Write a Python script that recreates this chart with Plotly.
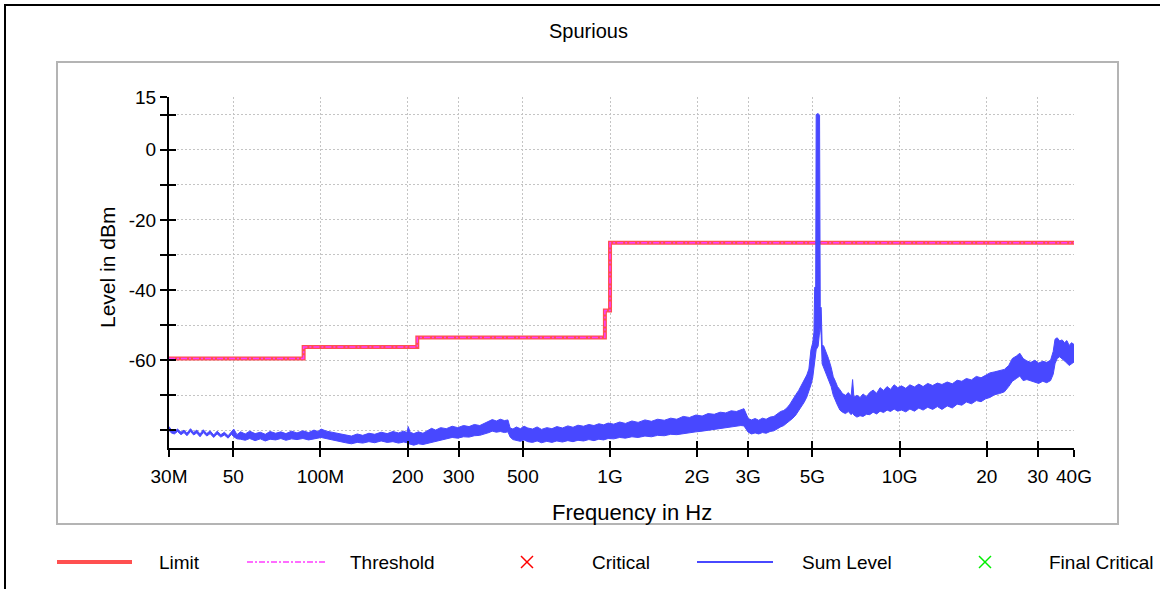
import math
import plotly.graph_objects as go

# ---------------- data ----------------
# Limit / threshold step lines (start frequency of each segment, MHz)
limit_start_mhz = [30, 87.5, 216, 960, 1000]
limit_dbm = [-59.5, -56.2, -53.5, -45.8, -26.5]
threshold_dbm = [-59.5, -56.2, -53.5, -45.8, -26.5]
stop_mhz = 40000

# Sum level trace: band read as upper / lower envelope (MHz, dBm)
sum_freq_mhz = [
    30.0, 30.6, 31.3, 32.1, 33.0, 33.8, 34.6, 35.6, 36.5, 37.4, 38.4, 39.4, 40.5, 41.6, 42.8, 44.0,
    45.3, 46.6, 48.0, 49.3, 50.2, 51.5,
    53, 55, 57, 59.5, 62, 64.5, 67, 70, 73, 76, 79.5, 83, 87, 91, 95, 98, 100.5,
    105, 110, 116, 122, 128, 134, 140, 147, 154, 162, 170, 178, 186, 194, 199, 201, 204, 210, 218, 226, 234,
    242, 250, 260, 272, 285, 298, 312, 326, 340, 355, 370, 382,
    392, 405, 418, 432, 444, 452, 462,
    475, 490, 505, 520, 540, 560, 580, 605, 630, 655, 685, 715, 745, 775, 810, 845, 880, 915, 950, 985,
    1030, 1080, 1130, 1190, 1250, 1320, 1390, 1460, 1540, 1620, 1700, 1790, 1880, 1980, 2080, 2180,
    2290, 2400, 2510, 2620, 2730, 2830, 2900, 2950, 3000,
    3080, 3170, 3260, 3360, 3460, 3570, 3680, 3780, 3880, 3980, 4080, 4180, 4280, 4380, 4480, 4580,
    4680, 4780, 4860, 4940, 5010, 5060, 5090, 5130, 5150, 5230, 5290, 5320, 5360, 5400, 5470, 5560,
    5680, 5800, 5900, 6000, 6100, 6220,
    6350, 6500, 6650, 6800, 6880, 6950, 7120, 7300, 7480, 7680, 7880, 8100, 8330, 8560, 8800, 9050,
    9300, 9570, 9850,
    10150, 10500, 10850, 11250, 11650, 12050, 12500, 13000, 13500, 14000, 14600, 15200, 15800, 16400,
    17000, 17700, 18400, 19100, 19800, 20500, 21300, 22100, 23000, 23800, 24500, 25300, 26000, 26700,
    27500, 28400, 29300, 30200, 31200, 32200, 33200, 33900, 34400, 35000, 35700, 36400, 37100, 37800,
    38500, 39200, 40000,
]
sum_upper_dbm = [
    -78.9, -79.9, -80.3, -79.6, -80.5, -79.9, -80.8, -79.5, -80.6, -79.9, -81.0, -79.8, -80.9, -80.1, -81.3, -80.2,
    -81.2, -80.5, -81.5, -80.3, -79.6, -81.2,
    -80.4, -81.0, -80.2, -80.9, -80.5, -81.1, -80.3, -80.8, -80.4, -80.9, -80.2, -80.7, -80.1, -80.6, -79.9, -80.3, -79.6,
    -80.2, -80.5, -80.9, -81.2, -81.6, -81.0, -81.4, -80.8, -81.1, -80.5, -80.9, -80.3, -80.7, -80.2, -80.6, -78.9, -80.5, -80.9, -80.4, -80.8, -80.1,
    -79.4, -79.9, -79.2, -79.5, -78.8, -79.2, -78.6, -78.9, -78.3, -78.6, -77.9, -77.5,
    -76.9, -77.3, -76.8, -77.2, -77.0, -79.3, -79.6,
    -79.0, -79.5, -78.8, -79.3, -79.6, -79.0, -79.7, -79.2, -79.5, -78.9, -79.3, -78.7, -79.1, -78.5, -78.8, -78.3, -78.6, -78.1, -78.4, -77.9,
    -78.2, -77.6, -78.0, -77.3, -77.7, -77.0, -77.4, -76.8, -77.1, -76.5, -76.8, -76.0, -76.3, -75.6, -75.9, -75.2,
    -75.4, -74.8, -75.0, -74.4, -74.6, -74.0, -73.8, -75.2, -76.6,
    -77.0, -76.6, -77.1, -76.5, -76.8, -76.2, -76.0, -75.2, -74.6, -74.3, -73.6, -72.5, -71.0, -69.8, -68.6, -67.2,
    -65.8, -64.2, -62.5, -57.0, -55.0, -52.0, -39.2, -39.0, 10.0, 10.3, 9.8, -44.7, -45.0, -55.5, -56.0, -57.5,
    -59.5, -62.0, -64.7, -66.0, -67.5, -68.4,
    -69.5, -70.0, -69.2, -70.2, -65.5, -70.5, -70.0, -70.6, -69.6, -70.4, -69.2, -68.5, -69.4, -67.8, -68.6, -67.5,
    -68.3, -67.0, -67.8,
    -67.3, -68.0, -67.0, -67.6, -66.8, -67.5, -66.6, -67.2, -66.5, -66.9, -66.2, -66.7, -65.7, -66.0,
    -65.2, -65.6, -64.6, -65.0, -64.3, -63.6, -63.3, -62.9, -62.6, -61.5, -59.5, -58.8, -58.0, -59.5,
    -60.2, -60.6, -60.0, -60.8, -60.3, -60.6, -60.0, -57.5, -54.0, -53.6, -54.5, -54.2, -55.0, -54.4,
    -55.8, -55.0, -55.5,
]
sum_lower_dbm = [
    -80.0, -80.7, -81.0, -80.3, -81.2, -80.6, -81.5, -80.3, -81.3, -80.7, -81.8, -80.6, -81.6, -80.9, -82.0, -81.0,
    -81.9, -81.3, -82.2, -81.1, -81.8, -82.4,
    -82.5, -82.8, -82.3, -82.9, -82.4, -83.0, -82.5, -82.7, -82.3, -82.8, -82.4, -82.6, -82.3, -82.7, -82.4, -82.2, -82.0,
    -82.3, -82.7, -83.1, -83.5, -83.8, -83.4, -83.6, -83.2, -83.5, -83.0, -83.4, -83.2, -83.6, -83.3, -83.5, -83.6, -83.9, -84.2, -83.8, -84.0, -83.5,
    -83.2, -83.0, -82.6, -82.4, -82.0, -82.2, -81.8, -81.9, -81.5, -81.4, -81.0, -80.6,
    -80.2, -80.5, -80.3, -80.6, -80.4, -81.9, -82.6,
    -82.9, -83.1, -82.7, -83.2, -83.4, -83.0, -83.5, -83.1, -83.4, -83.0, -83.3, -82.9, -83.2, -82.8, -83.0, -82.6, -82.9, -82.5, -82.7, -82.3,
    -82.4, -82.0, -82.2, -81.8, -82.0, -81.6, -81.8, -81.4, -81.5, -81.1, -81.2, -80.8, -80.6, -80.4, -80.2, -79.9,
    -79.7, -79.4, -79.3, -79.0, -78.8, -78.6, -78.7, -79.6, -80.5,
    -81.0, -80.7, -81.0, -80.6, -80.8, -80.3, -80.1, -79.5, -79.0, -78.6, -78.0, -77.2, -76.5, -75.6, -74.5, -73.3,
    -72.0, -70.5, -69.0, -67.0, -65.0, -62.0, -60.0, -58.0, -57.0, -56.0, -52.0, -50.0, -53.0, -61.0, -62.5, -64.0,
    -65.5, -67.5, -70.0, -71.5, -72.8, -74.2,
    -74.8, -75.2, -74.6, -75.5, -75.0, -75.6, -76.2, -75.8, -76.0, -75.4, -75.5, -74.8, -75.3, -74.5, -74.9, -74.2,
    -74.6, -73.9, -74.5,
    -74.2, -74.7, -73.9, -74.5, -73.6, -74.2, -73.4, -74.0, -73.2, -74.0, -73.0, -73.6, -72.5, -72.8,
    -71.9, -72.4, -71.5, -71.8, -71.0, -70.6, -69.8, -69.5, -69.0, -67.5, -66.0, -65.2, -64.5, -65.8,
    -65.5, -66.0, -66.3, -66.6, -66.0, -66.4, -65.8, -64.0, -61.0, -59.5, -59.0, -59.8, -60.2, -60.8,
    -61.5, -61.0, -60.5,
]

x_tick_mhz = [30, 50, 100, 200, 300, 500, 1000, 2000, 3000, 5000, 10000, 20000, 30000, 40000]
x_tick_text = ["30M", "50", "100M", "200", "300", "500", "1G", "2G", "3G", "5G", "10G", "20", "30", "40G"]
y_tick_vals = [15, 10, 0, -10, -20, -30, -40, -50, -60, -70, -80]
y_tick_text = ["15", "", "0", "", "-20", "", "-40", "", "-60", "", ""]
legend_names = ["Limit", "Threshold", "Critical", "Sum Level", "Final Critical"]

# ---------------- layout geometry (pixels) ----------------
W_FIG, H_FIG = 1160, 589
L, R, T, B = 169, 1074, 97, 448
FONT = "Liberation Sans"


def px_x(p):
    return (p - L) / (R - L)


def px_y(p):
    return (B - p) / (B - T)


MHZ = 1e6
x_range = [math.log10(30 * MHZ), math.log10(stop_mhz * MHZ)]
y_range = [-85, 15]

limit_x = [f * MHZ for f in limit_start_mhz] + [stop_mhz * MHZ]
limit_y = limit_dbm + [limit_dbm[-1]]
thr_y = threshold_dbm + [threshold_dbm[-1]]

poly_x = [f * MHZ for f in sum_freq_mhz] + [f * MHZ for f in sum_freq_mhz[::-1]]
poly_y = sum_upper_dbm + sum_lower_dbm[::-1]

LIMIT_C = "#ff5050"
THR_C = "#ff3cff"
SUM_C = "#4848ff"

fig = go.Figure()
fig.add_trace(go.Scatter(x=limit_x, y=limit_y, mode="lines", name=legend_names[0],
                         line=dict(color=LIMIT_C, width=4, shape="hv"), showlegend=False))
fig.add_trace(go.Scatter(x=limit_x, y=thr_y, mode="lines", name=legend_names[1],
                         line=dict(color=THR_C, width=1.5, shape="hv", dash="6px,2px,2px,2px"),
                         showlegend=False))
fig.add_trace(go.Scatter(x=poly_x, y=poly_y, mode="lines", name=legend_names[3], fill="toself",
                         fillcolor=SUM_C, line=dict(color=SUM_C, width=1), showlegend=False))
# empty trace binding the overlay axes (used for inward tick marks)
fig.add_trace(go.Scatter(x=[], y=[], xaxis="x2", yaxis="y2", showlegend=False, hoverinfo="skip"))

grid = dict(showgrid=True, gridcolor="#c4c4c4", gridwidth=1, griddash="2px,2px", zeroline=False)
tickfont = dict(family=FONT, size=19, color="black")

fig.update_layout(
    width=W_FIG, height=H_FIG,
    margin=dict(l=L, r=W_FIG - R, t=T, b=H_FIG - B, pad=0),
    paper_bgcolor="white", plot_bgcolor="white",
    showlegend=False,
    font=dict(family=FONT, color="black"),
    xaxis=dict(type="log", range=x_range, tickvals=[f * MHZ for f in x_tick_mhz], ticktext=x_tick_text,
               showline=True, linecolor="black", linewidth=2, ticks="outside", ticklen=7, tickwidth=2,
               tickcolor="black", tickfont=tickfont, ticklabelstandoff=3, **grid),
    yaxis=dict(range=y_range, tickvals=y_tick_vals, ticktext=y_tick_text,
               showline=True, linecolor="black", linewidth=2, ticks="outside", ticklen=7, tickwidth=2,
               tickcolor="black", tickfont=tickfont, ticklabelstandoff=0, **grid),
    xaxis2=dict(type="log", range=x_range, overlaying="x", anchor="y2", side="bottom",
                tickvals=[f * MHZ for f in x_tick_mhz], ticks="inside", ticklen=7, tickwidth=2,
                tickcolor="black", showticklabels=False, showgrid=False, showline=False, zeroline=False),
    yaxis2=dict(range=y_range, overlaying="y", anchor="x2", side="left",
                tickvals=y_tick_vals, ticks="inside", ticklen=7, tickwidth=2,
                tickcolor="black", showticklabels=False, showgrid=False, showline=False, zeroline=False),
)

shapes = []
annotations = []

# outer black frame and gray panel frame
shapes.append(dict(type="rect", xref="paper", yref="paper", x0=px_x(5), x1=px_x(1185), y0=px_y(610), y1=px_y(5),
                   line=dict(color="black", width=2), fillcolor="rgba(0,0,0,0)", layer="below"))
shapes.append(dict(type="rect", xref="paper", yref="paper", x0=px_x(57), x1=px_x(1118), y0=px_y(524), y1=px_y(62),
                   line=dict(color="#b4b4b4", width=2), fillcolor="rgba(0,0,0,0)", layer="below"))

# titles
annotations.append(dict(text="Spurious", xref="paper", yref="paper", x=px_x(588), y=px_y(31),
                        xanchor="center", yanchor="middle", showarrow=False, font=dict(size=20)))
annotations.append(dict(text="Level in dBm", xref="paper", yref="paper", x=px_x(107), y=px_y(268),
                        xanchor="center", yanchor="middle", textangle=-90, showarrow=False, font=dict(size=21)))
annotations.append(dict(text="Frequency in Hz", xref="paper", yref="paper", x=px_x(632), y=px_y(512),
                        xanchor="center", yanchor="middle", showarrow=False, font=dict(size=22)))

# legend (drawn manually to match the original layout)
LEG_Y = 562
shapes.append(dict(type="line", xref="paper", yref="paper", x0=px_x(57), x1=px_x(132), y0=px_y(LEG_Y), y1=px_y(LEG_Y),
                   line=dict(color=LIMIT_C, width=4)))
shapes.append(dict(type="line", xref="paper", yref="paper", x0=px_x(247), x1=px_x(325), y0=px_y(LEG_Y), y1=px_y(LEG_Y),
                   line=dict(color=THR_C, width=1.5, dash="6px,2px,2px,2px")))
shapes.append(dict(type="line", xref="paper", yref="paper", x0=px_x(697), x1=px_x(773), y0=px_y(LEG_Y), y1=px_y(LEG_Y),
                   line=dict(color=SUM_C, width=2)))
for cx, col in [(527, "#ff0000"), (985, "#00ee00")]:
    h = 6
    shapes.append(dict(type="line", xref="paper", yref="paper", x0=px_x(cx - h), x1=px_x(cx + h),
                       y0=px_y(LEG_Y - h), y1=px_y(LEG_Y + h), line=dict(color=col, width=1.5)))
    shapes.append(dict(type="line", xref="paper", yref="paper", x0=px_x(cx - h), x1=px_x(cx + h),
                       y0=px_y(LEG_Y + h), y1=px_y(LEG_Y - h), line=dict(color=col, width=1.5)))
for name, lx in zip(legend_names, [157, 348, 590, 800, 1047]):
    annotations.append(dict(text=name, xref="paper", yref="paper", x=px_x(lx), y=px_y(LEG_Y),
                            xanchor="left", yanchor="middle", showarrow=False, font=dict(size=19)))

fig.update_layout(shapes=shapes, annotations=annotations)
fig.write_html("out.html", config={"displayModeBar": False},
               post_script="document.body.style.margin='0';document.body.style.overflow='hidden';")
